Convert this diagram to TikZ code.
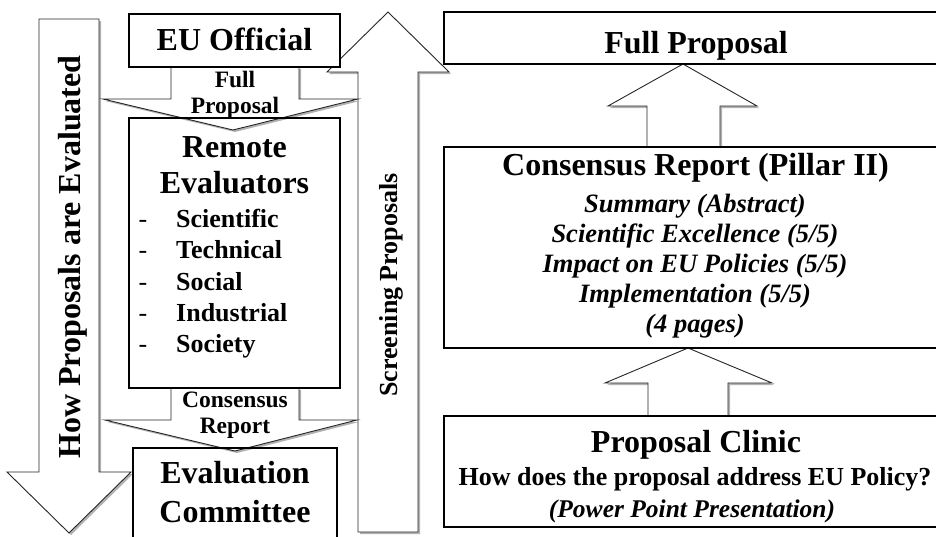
\documentclass[tikz,border=0pt]{standalone}
\usepackage{fontspec}
\setmainfont{Liberation Serif}
\begin{document}
\begin{tikzpicture}[x=1pt,y=-1pt,
  box/.style={draw=black, line width=1.4pt, fill=white, inner sep=0pt},
  openbox/.style={draw=black, line width=1.4pt, inner sep=0pt},
  barrow/.style={draw=black!85, line width=0.9pt, fill=white, line join=miter,
     preaction={fill=black!30, transform canvas={xshift=2pt,yshift=-2pt}}},
  big/.style={font=\fontsize{32}{36}\selectfont\bfseries, inner sep=0pt, anchor=base},
  mid/.style={font=\fontsize{26}{30}\selectfont\bfseries, inner sep=0pt, anchor=base},
  small/.style={font=\fontsize{23.5}{27}\selectfont\bfseries, inner sep=0pt, anchor=base},
  ital/.style={font=\fontsize{26.5}{30}\selectfont\bfseries\itshape, inner sep=0pt, anchor=base},
  dashmark/.style={font=\fontsize{26}{30}\selectfont, inner sep=0pt, anchor=base},
]
\useasboundingbox (0,0) rectangle (936,536);
\clip (0,0) rectangle (936,536);

% big side arrows
\draw[barrow] (39,19) -- (99,19) -- (99,472) -- (131,472) -- (69,533) -- (7,472) -- (39,472) -- cycle;
\draw[barrow] (358,532) -- (358,72) -- (327,72) -- (388,12) -- (449,72) -- (418,72) -- (418,532) -- cycle;

% small left arrows
\draw[barrow] (171,67) -- (299,67) -- (299,99) -- (358,99) -- (233,130) -- (103,99) -- (171,99) -- cycle;
\draw[barrow] (171,388) -- (299,388) -- (299,420) -- (357,420) -- (235,451) -- (105,420) -- (171,420) -- cycle;

% right arrows
\draw[barrow] (647,147) -- (647,106) -- (608,106) -- (683,64) -- (757,106) -- (720,106) -- (720,147) -- cycle;
\draw[barrow] (648,416) -- (648,383) -- (605,383) -- (688,348) -- (772,383) -- (728,383) -- (728,416) -- cycle;

% boxes
\node[box, minimum width=211pt, minimum height=53pt] (eu) at (234.5,40.5) {};
\node[openbox, minimum width=211pt, minimum height=270pt] (remote) at (234.5,253) {};
\node[openbox, minimum width=204pt, minimum height=100pt] (evalc) at (235,498) {};
\node[box, minimum width=496pt, minimum height=52pt] (fullp) at (692,38) {};
\node[box, minimum width=496pt, minimum height=201pt] (crep) at (692,247.5) {};
\node[box, minimum width=496pt, minimum height=111pt] (clinic) at (692,471.5) {};

% left column texts
\node[big] (euT) at (234.5,50) {EU Official};
\node[small] (fp1) at (235,87) {Full};
\node[small] (fp2) at (235,113) {Proposal};
\node[big] (re1) at (234.5,157) {Remote};
\node[big] (re2) at (234.5,193) {Evaluators};
\node[dashmark] (d1) at (143,227) {-};
\node[dashmark] (d2) at (143,258) {-};
\node[dashmark] (d3) at (143,290) {-};
\node[dashmark] (d4) at (143,321) {-};
\node[dashmark] (d5) at (143,352) {-};
\node[mid, anchor=base west] (b1) at (176,227) {Scientific};
\node[mid, anchor=base west] (b2) at (176,258) {Technical};
\node[mid, anchor=base west] (b3) at (176,290) {Social};
\node[mid, anchor=base west] (b4) at (176,321) {Industrial};
\node[mid, anchor=base west] (b5) at (176,352) {Society};
\node[small] (cr1) at (235,407) {Consensus};
\node[small] (cr2) at (235,433) {Report};
\node[big] (ec1) at (235,483) {Evaluation};
\node[big] (ec2) at (235,522) {Committee};

% rotated texts
\node[big, rotate=90] (howT) at (80,257) {How Proposals are Evaluated};
\node[mid, rotate=90] (scrT) at (397,285) {Screening Proposals};

% right column texts
\node[big] (fpT) at (696,53) {Full Proposal};
\node[big] (crT) at (695.5,175) {Consensus Report (Pillar II)};
\node[ital] (i1) at (695,212) {Summary (Abstract)};
\node[ital] (i2) at (695,242) {Scientific Excellence (5/5)};
\node[ital] (i3) at (695,272) {Impact on EU Policies (5/5)};
\node[ital] (i4) at (695,302) {Implementation (5/5)};
\node[ital] (i5) at (695,332) {(4 pages)};
\node[big] (pcT) at (696,452) {Proposal Clinic};
\node[mid] (pc2) at (695,485) {How does the proposal address EU Policy?};
\node[mid, font=\fontsize{25.5}{30}\selectfont\bfseries\itshape] (pc3) at (692,517) {(Power Point Presentation)};
\end{tikzpicture}
\end{document}
